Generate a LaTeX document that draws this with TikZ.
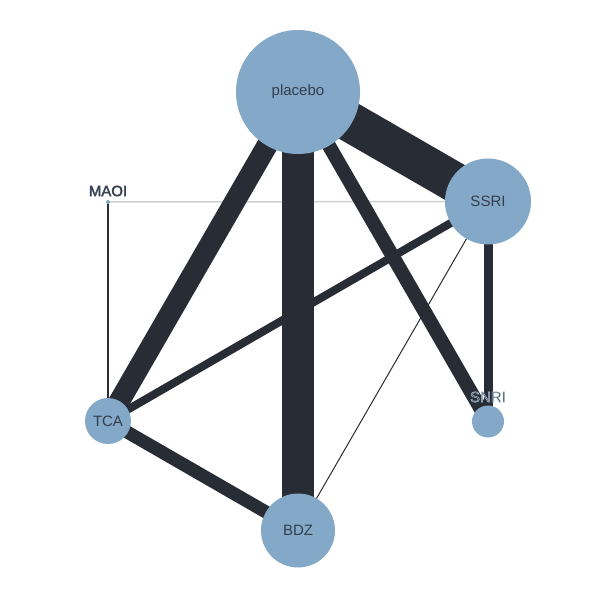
\documentclass[tikz,border=0pt]{standalone}
\usepackage{fontspec}
\setmainfont{Liberation Sans}
\usetikzlibrary{backgrounds}
\definecolor{nodeblue}{HTML}{84A9C8}
\definecolor{edgedark}{HTML}{272C35}
\definecolor{labeldark}{HTML}{333D4D}
% outlined label text (fill, then a thin stroke round the glyphs)
\newcommand{\halotext}[2]{\special{pdf:code 2 Tr #1}#2\special{pdf:code 0 Tr}}
\begin{document}
\begin{tikzpicture}[
       x=1pt, y=-1pt,
       drug/.style={circle, fill=nodeblue, inner sep=0pt, text=labeldark, font=\fontsize{15}{15}\selectfont},
       tag/.style={text=labeldark, inner sep=0pt, font=\fontsize{15}{15}\selectfont},
       edge/.style={draw=edgedark}
   ]
   \useasboundingbox (0,0) rectangle (616,599);

   \node[drug, minimum size=124pt] (placebo) at (298, 92) {placebo};
   \node[drug, minimum size=86pt] (ssri) at (488, 201.5) {SSRI};
   \node[drug, minimum size=4pt] (maoi) at (108, 202) {};
   \node[drug, minimum size=46pt] (tca) at (108, 421) {TCA};
   \node[drug, minimum size=32pt] (snri) at (488, 421.5) {};
   \node[drug, minimum size=74pt] (bdz) at (298, 530.5) {BDZ};

   \node[tag] (maoilabel) at (108, 191) {\halotext{0.25 0.3 0.36 RG 0.4 w}{MAOI}};
   \node[tag] (snrilabel) at (488, 397) {\halotext{0.72 0.8 0.87 RG 0.45 w}{SNRI}};

   \begin{scope}[on background layer]
       \draw[draw=black!18, line width=1.5pt] (maoi.center) -- (ssri.center);
       \foreach \a/\b/\w in {placebo/ssri/40, placebo/bdz/32, placebo/tca/21,
                             placebo/snri/14, tca/bdz/13, ssri/snri/9,
                             ssri/tca/8, maoi/tca/2, ssri/bdz/1} {
           \draw[edge, line width=\w pt] (\a.center) -- (\b.center);
       }
   \end{scope}
\end{tikzpicture}
\end{document}
